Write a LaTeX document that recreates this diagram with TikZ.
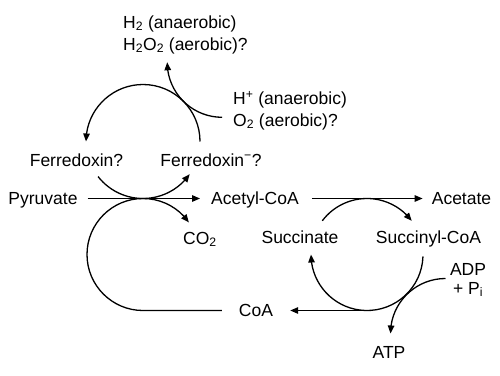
\documentclass[tikz,border=0pt]{standalone}
\usepackage{fontspec}
\setmainfont{Liberation Sans}
\usepackage{tikz}
\usetikzlibrary{arrows.meta, bending}

\begin{document}
\begin{tikzpicture}[
    x=1pt, y=1pt, >={Triangle[length=8pt, width=6.5pt]},
    lbl/.style={inner sep=0pt, font=\fontsize{17.5}{22}\selectfont, text height=15.8pt, text depth=3.3pt},
    multi/.style={inner sep=0pt, font=\fontsize{17.5}{22}\selectfont},
    flow/.style={->, line width=1.3pt}
]
\useasboundingbox (0,0) rectangle (500,-375);

% Metaboliti
\node[lbl] (pyr) at (43,-198.5) {Pyruvate};
\node[lbl] (acoa) at (255,-198.5) {Acetyl-CoA};
\node[lbl] (acet) at (461.5,-198.5) {Acetate};
\node[lbl] (fdox) at (76.5,-160) {Ferredoxin?};
\node[lbl] (fdred) at (211,-160) {Ferredoxin\textsuperscript{−}?};
\node[lbl] (co2) at (200,-238) {CO\textsubscript{2}};
\node[lbl] (succ) at (300,-237) {Succinate};
\node[lbl] (sucoa) at (428.5,-237) {Succinyl-CoA};
\node[lbl] (coa) at (256,-310.5) {CoA};
\node[lbl] (atp) at (389,-352) {ATP};
\node[multi, font=\fontsize{17.5}{19}\selectfont, align=center] (adp) at (468,-280) {ADP\\+ P\textsubscript{i}};
\node[multi, align=left, anchor=west] (prod) at (123,-34.5) {H\textsubscript{2} (anaerobic)\\H\textsubscript{2}O\textsubscript{2} (aerobic)?};
\node[multi, align=left, anchor=west] (acc) at (233,-110.5) {H\textsuperscript{+} (anaerobic)\\O\textsubscript{2} (aerobic)?};

% Centri dei cerchi
\coordinate (fd) at (143,-141.5);
\coordinate (cl) at (143,-254.5);
\coordinate (sc) at (367,-254.5);
\coordinate (hy) at (222.2,-62.3);
\coordinate (ad) at (445.5,-333.5);

% Frecce dritte
\draw[flow, shorten <=10pt, shorten >=11pt] (pyr) -- (acoa);
\draw[flow, shorten <=13pt, shorten >=9pt] (acoa) -- (acet);

% Ferredossina e idrogeno
\draw[flow] ([shift={(0:57)}]fd) arc[start angle=0, end angle=180, radius=57];
\draw[flow] ([shift={(218:57)}]fd) arc[start angle=218, end angle=325, radius=57];
\draw[flow] ([shift={(270:55)}]hy) arc[start angle=270, end angle=180, radius=55];

% Anello del CoA
\draw[flow, shorten <=17pt] (coa) -- ([shift={(270:56)}]cl) arc[start angle=270, end angle=35, radius=56];

% Ciclo succinato
\draw[flow] ([shift={(143:56)}]sc) arc[start angle=143, end angle=37, radius=56];
\draw[flow] ([shift={(-2:56)}]sc) arc[start angle=-2, end angle=-180, radius=56];
\draw[flow, shorten >=17pt] ([shift={(270:56)}]sc) -- (coa);
\draw[flow] ([shift={(90:55)}]ad) arc[start angle=90, end angle=180, radius=55];

\end{tikzpicture}
\end{document}
